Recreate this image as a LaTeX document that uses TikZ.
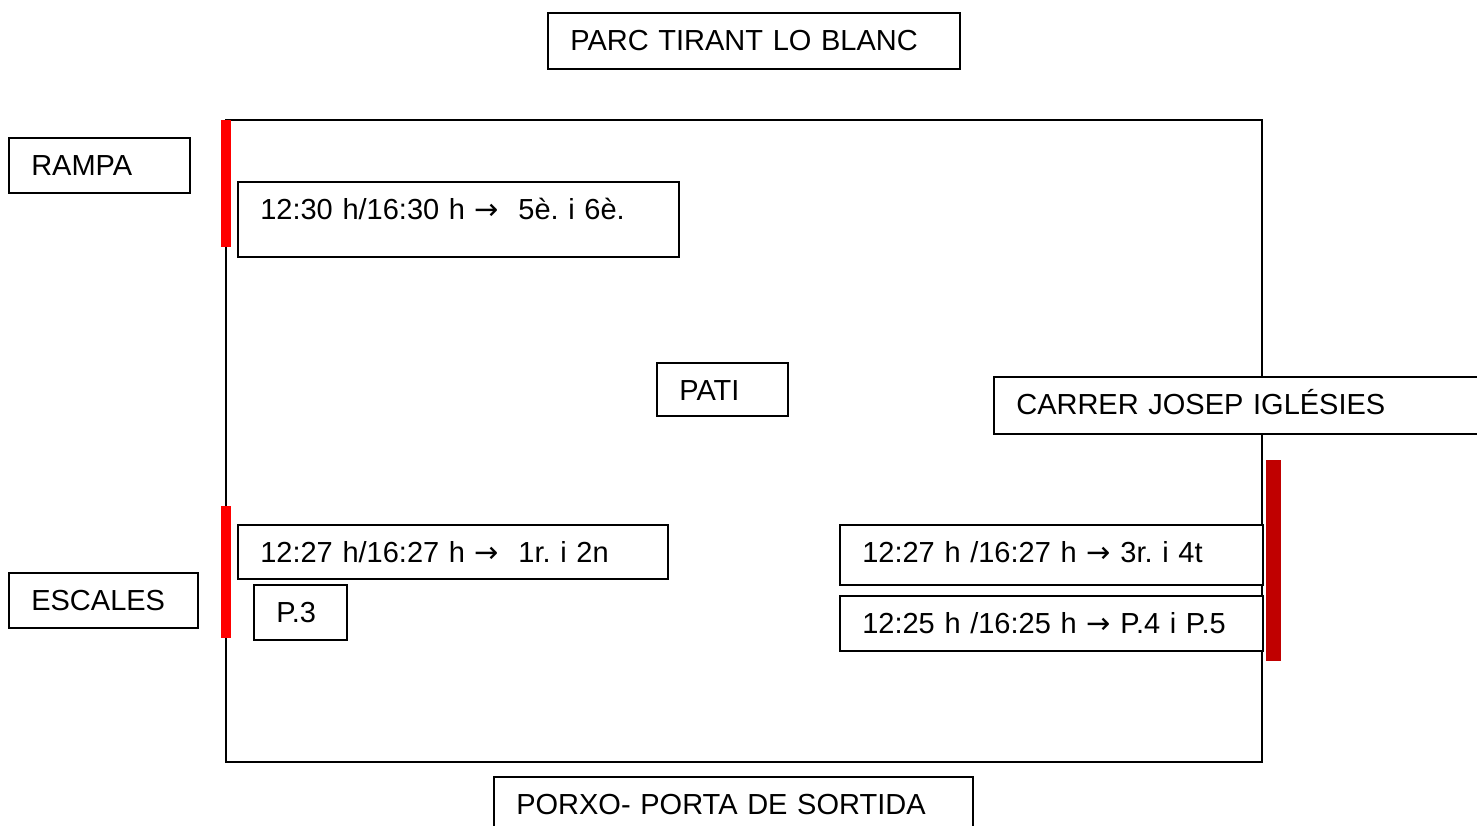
\documentclass[tikz,border=0pt]{standalone}
\usepackage{fontspec}
\setmainfont{Liberation Sans}
\newfontfamily\arrowfont{DejaVu Sans}
\newcommand{\rarr}{{\arrowfont →}}
\definecolor{barred}{RGB}{255,0,0}
\definecolor{bardark}{RGB}{192,0,0}
\frenchspacing
\begin{document}
\begin{tikzpicture}[x=1pt,y=-1pt,
  box/.style={draw, fill=white, line width=1.6pt, anchor=north west, inner ysep=0pt,
    inner xsep=22.5pt, text height=38pt, align=left,
    font=\frenchspacing\fontsize{29}{34}\selectfont},
  wall/.style={line width=1.6pt}]
\useasboundingbox (0,0) rectangle (1477,825);
% main yard
\draw[wall] (226,120) rectangle (1262,762);
% doors
\fill[barred] (221,120) rectangle (231,247);
\fill[barred] (221,506) rectangle (231,638);
\fill[bardark] (1266,460) rectangle (1281,661);
% labels
\node[box, text width=367pt, text depth=18pt] (parc) at (547,12) {PARC TIRANT LO BLANC};
\node[box, text width=136pt, text depth=17pt] (rampa) at (8,137) {RAMPA};
\node[box, text width=396pt, text depth=37pt] (t56) at (237,181) {12:30 h/16:30 h \rarr\ \ 5è. i 6è.};
\node[box, text width=86pt, text depth=15pt] (pati) at (656,362) {PATI};
\node[box, text width=452pt, text depth=19pt] (carrer) at (993,376) {CARRER JOSEP IGLÉSIES};
\node[box, text width=385pt, text depth=16pt] (t12) at (237,524) {12:27 h/16:27 h \rarr\ \ 1r. i 2n};
\node[box, text width=48pt, text depth=17pt] (p3) at (253,584) {P.3};
\node[box, text width=144pt, text depth=17pt] (escales) at (8,572) {ESCALES};
\node[box, text width=378pt, text depth=22pt] (t34) at (839,524) {12:27 h /16:27 h \rarr\ 3r. i 4t};
\node[box, text width=378pt, text depth=17pt] (t45) at (839,595) {12:25 h /16:25 h \rarr\ P.4 i P.5};
\node[box, text width=434pt, text depth=26pt] (porxo) at (493,776) {PORXO- PORTA DE SORTIDA};
\end{tikzpicture}
\end{document}
